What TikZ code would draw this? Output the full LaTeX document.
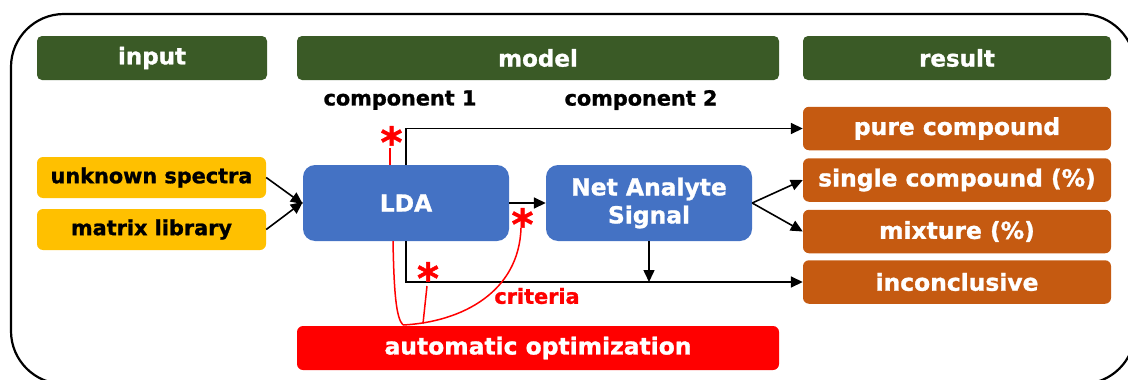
\documentclass[tikz,border=0pt]{standalone}
\usepackage{fontspec}
\setmainfont{DejaVu Sans}[BoldFeatures={FakeBold=1.2}]
\usetikzlibrary{arrows.meta}
\definecolor{hdrgreen}{HTML}{3A5A26}
\definecolor{inyellow}{HTML}{FFC000}
\definecolor{modblue}{HTML}{4472C4}
\definecolor{resorange}{HTML}{C55A11}
\definecolor{optred}{HTML}{FF0000}
\tikzset{
  box/.style={rectangle, draw=none, inner sep=0pt, align=center, font=\bfseries},
  hdr/.style={box, fill=hdrgreen, text=white, rounded corners=5pt, minimum height=44pt, font=\bfseries\fontsize{23}{26}\selectfont},
  inbox/.style={box, fill=inyellow, text=black, rounded corners=6pt, minimum width=229pt, minimum height=41pt, font=\bfseries\fontsize{20.8}{24}\selectfont},
  modbox/.style={box, fill=modblue, text=white, rounded corners=12pt, minimum width=206pt, minimum height=76pt, font=\bfseries\fontsize{23.4}{28}\selectfont},
  resbox/.style={box, fill=resorange, text=white, rounded corners=6pt, minimum width=308pt, minimum height=43.5pt, font=\bfseries\fontsize{23.4}{26}\selectfont},
  optbox/.style={box, fill=optred, text=white, rounded corners=6pt, minimum width=482pt, minimum height=44pt, font=\bfseries\fontsize{23.4}{26}\selectfont},
  lbl/.style={inner sep=0pt, font=\bfseries\fontsize{20.8}{24}\selectfont},
  star/.style={inner sep=0pt, anchor=north, text=optred, font=\bfseries\fontsize{42}{42}\selectfont},
  conn/.style={black, line width=1.6pt, -{Triangle[length=12pt,width=11pt]}},
  redline/.style={optred, line width=1.5pt},
}
\begin{document}
\begin{tikzpicture}[x=1pt,y=-1pt]
\useasboundingbox (0,0) rectangle (1128,380);
\clip (0,0) rectangle (1128,380);
\draw[line width=2.2pt, rounded corners=53pt] (11,14) rectangle (1135,384);

% headers
\node[hdr, minimum width=230pt] (input) at (152,58) {input};
\node[hdr, minimum width=482pt] (model) at (538,58) {model};
\node[hdr, minimum width=308pt] (result) at (957,58) {result};

\node[lbl] (comp1) at (400,100) {component 1};
\node[lbl] (comp2) at (641,100) {component 2};

% inputs
\node[inbox] (unknown) at (151.5,177.5) {unknown spectra};
\node[inbox] (matrix) at (151.5,229.5) {matrix library};

% model
\node[modbox] (lda) at (406,203) {LDA};
\node[modbox] (nas) at (649,203) {Net Analyte\\Signal};

% results
\node[resbox] (pure) at (957,128.5) {pure compound};
\node[resbox] (single) at (957,180) {single compound (\%)};
\node[resbox] (mixture) at (957,231.5) {mixture (\%)};
\node[resbox] (incon) at (957,282) {inconclusive};

% optimization
\node[optbox] (opt) at (538,348) {automatic optimization};

% connectors
\draw[conn] (unknown.east) -- ([yshift=-1pt]lda.west);
\draw[conn] (matrix.east) -- ([yshift=1pt]lda.west);
\draw[conn] (lda.east) -- (nas.west);
\draw[conn] (lda.north) |- (pure.west);
\draw[conn] (lda.south) |- (incon.west);
\draw[conn] (nas.south) -- (nas.south |- incon.west);
\draw[conn] (nas.east) -- (single.west);
\draw[conn] (nas.east) -- (mixture.west);

% asterisks
\node[star] (s1) at (391.5,126) {*};
\node[star] (s2) at (522.5,208) {*};
\node[star] (s3) at (428,262) {*};
\node[lbl, text=optred] (crit) at (537,296) {criteria};

% red links
\coordinate (meet) at (403,325);
\coordinate (meet2) at (423,323.5);
\draw[redline] (390,148) -- (lda.north -| 390,0);
\draw[redline] (lda.south -| 393,0) .. controls (394,292) and (396,318) .. (meet);
\draw[redline] (521,228) .. controls (519,292) and (462,322) .. (meet);
\draw[redline] (427,286) -- (meet2);
\end{tikzpicture}
\end{document}
